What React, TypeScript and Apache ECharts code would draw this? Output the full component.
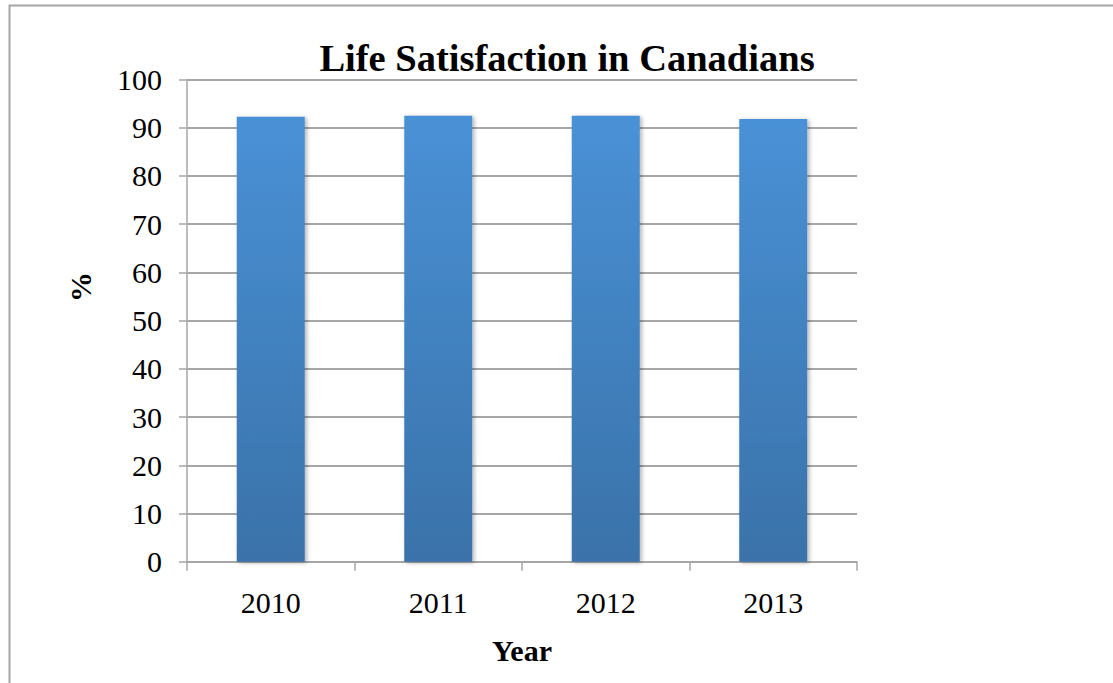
import React, { useEffect, useRef } from "react";
import * as echarts from "echarts";

const years = ["2010", "2011", "2012", "2013"];
const satisfaction = [92.3, 92.5, 92.5, 91.8];
const chartTitle = "Life Satisfaction in Canadians";
const xName = "Year";
const yName = "%";

export default function App() {
  const ref = useRef<HTMLDivElement>(null);
  useEffect(() => {
    const chart = echarts.init(ref.current!, undefined, { renderer: "svg" });
    const font = "'Liberation Serif', 'Times New Roman', serif";
    chart.setOption({
      animation: false,
      backgroundColor: "#ffffff",
      textStyle: { fontFamily: font },
      title: {
        text: chartTitle,
        left: 562,
        textAlign: "center",
        top: 33,
        textStyle: { fontFamily: font, fontSize: 38.5, fontWeight: "bold", color: "#000" },
      },
      graphic: [
        {
          type: "rect",
          shape: { x: 9.5, y: 5.5, width: 1300, height: 1000 },
          style: { fill: "none", stroke: "#a6a6a6", lineWidth: 2 },
          silent: true,
          z: -1,
        },
        {
          type: "text",
          x: 80,
          y: 287,
          rotation: Math.PI / 2,
          style: {
            text: yName,
            fontFamily: font,
            fontSize: 30,
            fontWeight: "bold",
            fill: "#000",
            align: "center",
            verticalAlign: "middle",
          },
        },
      ],
      grid: { left: 187, right: 256, top: 79.5, bottom: 121.3 },
      xAxis: {
        type: "category",
        data: years,
        name: xName,
        nameLocation: "middle",
        nameGap: 74,
        nameTextStyle: { fontFamily: font, fontSize: 30, fontWeight: "bold", color: "#000" },
        axisLine: { show: true, lineStyle: { color: "#a6a6a6", width: 1.5 } },
        axisTick: { show: true, length: 9, lineStyle: { color: "#a6a6a6", width: 1.5 } },
        axisLabel: { fontFamily: font, fontSize: 30, color: "#000", margin: 26 },
      },
      yAxis: {
        type: "value",
        min: 0,
        max: 100,
        interval: 10,
        axisLine: { show: true, lineStyle: { color: "#a6a6a6", width: 1.5 } },
        axisTick: { show: true, length: 8, lineStyle: { color: "#a6a6a6", width: 1.5 } },
        axisLabel: { fontFamily: font, fontSize: 30, color: "#000", margin: 25 },
        splitLine: { show: true, lineStyle: { color: "#a6a6a6", width: 2 } },
      },
      series: [
        {
          type: "bar",
          data: satisfaction,
          barWidth: 68,
          itemStyle: {
            color: new echarts.graphic.LinearGradient(0, 0, 0, 1, [
              { offset: 0, color: "#4991d6" },
              { offset: 1, color: "#3a72a9" },
            ]),
            shadowColor: "rgba(0,0,0,0.3)",
            shadowBlur: 4,
            shadowOffsetX: 2,
            shadowOffsetY: 1,
          },
        },
      ],
    });
    return () => chart.dispose();
  }, []);
  return (
    <div
      ref={ref}
      style={{ position: "absolute", left: 0, top: 0, width: 1113, height: 683 }}
    />
  );
}
